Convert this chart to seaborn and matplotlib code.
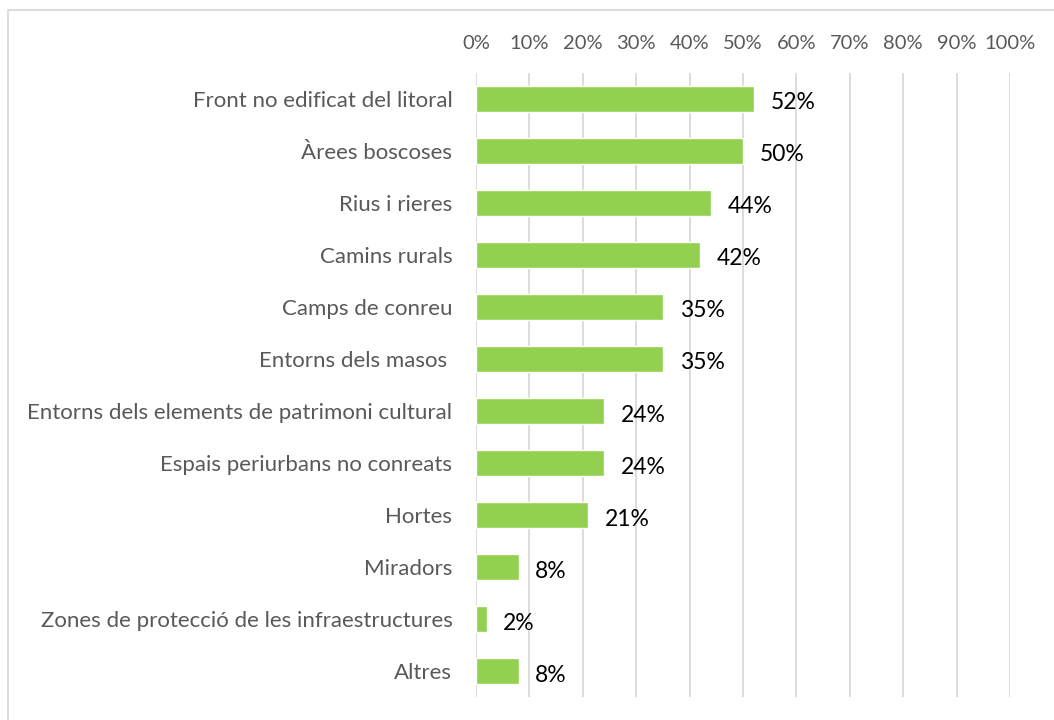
import matplotlib.pyplot as plt
import numpy as np
import pandas as pd
import seaborn as sns
from matplotlib.patches import Rectangle

# data
categories = ["Front no edificat del litoral", "Àrees boscoses", "Rius i rieres",
              "Camins rurals", "Camps de conreu", "Entorns dels masos ",
              "Entorns dels elements de patrimoni cultural",
              "Espais periurbans no conreats", "Hortes", "Miradors",
              "Zones de protecció de les infraestructures", "Altres"]
values = [52, 50, 44, 42, 35, 35, 24, 24, 21, 8, 2, 8]
x_ticks = [0, 10, 20, 30, 40, 50, 60, 70, 80, 90, 100]
x_tick_labels = [f"{t}%" for t in x_ticks]

df = pd.DataFrame({"categoria": categories, "valor": values})

sns.set_style("white")
plt.rcParams['font.family'] = ['Lato', 'DejaVu Sans']

fig = plt.figure(figsize=(10.54, 7.2), dpi=100)
ax = fig.add_axes([0.4516, 0.032, 0.5066, 0.867])

sns.barplot(data=df, x="valor", y="categoria", orient="h", color="#92D050",
            saturation=1, width=0.5, ax=ax)

ax.set_xlim(0, 100)
ax.set_xticks(x_ticks)
ax.set_xticklabels(x_tick_labels)
ax.xaxis.tick_top()
ax.grid(axis="x", color="#D9D9D9", linewidth=1.3)
ax.set_axisbelow(True)
ax.tick_params(axis="x", length=0, pad=15, labelsize=14.5, labelcolor="#595959")
ax.tick_params(axis="y", length=0, pad=17, labelsize=16, labelcolor="#595959")
ax.set_xlabel("")
ax.set_ylabel("")
for s in ax.spines.values():
    s.set_visible(False)

# value labels next to each bar
for i, v in enumerate(values):
    ax.annotate(f"{v}%", xy=(v, i), xytext=(12, -3), textcoords="offset points",
                ha="left", va="center", fontsize=16.5, color="black")

# light frame around the chart area
fig.patches.append(Rectangle((0.008, -0.01), 1.1, 0.996, transform=fig.transFigure,
                             fill=False, edgecolor="#D9D9D9", linewidth=1.3))

fig.savefig("out.png", dpi=100)
